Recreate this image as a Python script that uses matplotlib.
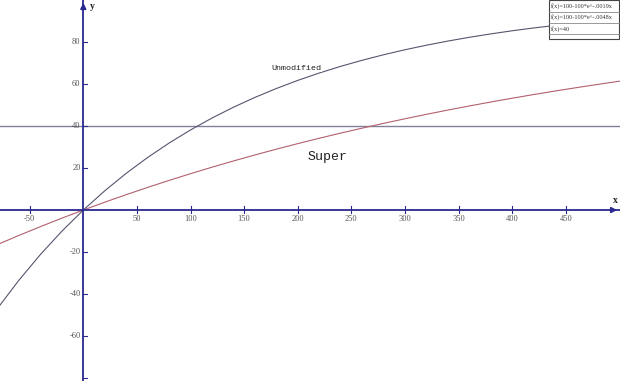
import matplotlib
matplotlib.use("Agg")
import matplotlib.pyplot as plt
import matplotlib.patches as mpatches
from matplotlib.lines import Line2D

# values, every 20 units of x
xs = [-80, -60, -40, -20, 0, 20, 40, 60, 80, 100, 120, 140, 160, 180, 200,
      220, 240, 260, 280, 300, 320, 340, 360, 380, 400, 420, 440, 460, 480, 500]
unmodified = [-46.81, -33.38, -21.17, -10.08, 0.0, 9.15, 17.47, 25.02, 31.89, 38.12,
              43.79, 48.93, 53.61, 57.85, 61.71, 65.22, 68.40, 71.29, 73.92, 76.31,
              78.47, 80.44, 82.24, 83.86, 85.34, 86.68, 87.90, 89.01, 90.01, 90.93]
super_ = [-16.42, -12.08, -7.90, -3.87, 0.0, 3.73, 7.32, 10.77, 14.10, 17.30,
          20.39, 23.36, 26.21, 28.97, 31.61, 34.16, 36.62, 38.98, 41.26, 43.45,
          45.56, 47.59, 49.54, 51.42, 53.23, 54.98, 56.66, 58.27, 59.83, 61.33]
level = 40

x_ticks = [-50, 50, 100, 150, 200, 250, 300, 350, 400, 450]
y_ticks = [80, 60, 40, 20, -20, -40, -60]
legend_rows = ["f(x)=100-100*e^-.0019x", "f(x)=100-100*e^-.0048x", "f(x)=40"]

AXIS = "#2a2a90"
BLUE = "#55556e"
RED = "#b2606e"
HLINE = "#80809a"
W, H = 620, 381

fig = plt.figure(figsize=(W / 100, H / 100), dpi=100)
ax = fig.add_axes([0, 0, 1, 1])
ax.set_xlim(-77.7, 500.6)
ax.set_ylim(-81.4, 100)
ax.axis("off")

ax.axhline(level, color=HLINE, lw=1.0)
ax.plot(xs, super_, color=RED, lw=0.8)
ax.plot(xs, unmodified, color=BLUE, lw=0.8)

# axes through the origin
ax.axhline(0, color=AXIS, lw=1.3)
ax.axvline(0, color=AXIS, lw=1.3)
ax.annotate("", xy=(500.6, 0), xytext=(490, 0),
            arrowprops=dict(arrowstyle="-|>", color=AXIS, lw=1.3, mutation_scale=8))
ax.annotate("", xy=(0, 100), xytext=(0, 95),
            arrowprops=dict(arrowstyle="-|>", color=AXIS, lw=1.3, mutation_scale=8))

tfont = dict(family="Liberation Serif", fontsize=6, color="#555555")
for t in x_ticks:
    ax.plot([t, t], [-1.2, 2.0], color=AXIS, lw=0.8)
    ax.text(t, -2.5, str(t), ha="center", va="top", **tfont)
for t in y_ticks:
    ax.plot([-0.5, 3.5], [t, t], color=AXIS, lw=0.8)
    ax.text(-2.5, t, str(t), ha="right", va="center", **tfont)
ax.plot([-0.5, 3.5], [-80, -80], color=AXIS, lw=0.8)

ax.text(496, 2.5, "x", ha="center", va="bottom", family="Liberation Serif",
        fontsize=7, fontweight="bold", color="#222222")
ax.text(6, 97, "y", ha="left", va="center", family="Liberation Serif",
        fontsize=7, fontweight="bold", color="#222222")

ax.text(199, 67.6, "Unmodified", ha="center", va="center", family="Liberation Mono",
        fontsize=6, color="#222222",
        bbox=dict(facecolor="white", edgecolor="none", pad=0.5))
ax.text(228, 25.2, "Super", ha="center", va="center", family="Liberation Mono",
        fontsize=9.5, color="#222222")

# legend box in the top right corner (pixel positions)
def px(x, y):
    return x / W, 1 - y / H

x0, y0 = px(549, 39)
x1, y1 = px(619, 0)
fig.patches.append(mpatches.Rectangle((x0, y0), x1 - x0, y1 - y0, transform=fig.transFigure,
                                      facecolor="white", edgecolor="#444444", lw=0.8))
for i, label in enumerate(legend_rows):
    tx, ty = px(551, 6 + 11.5 * i)
    fig.text(tx, ty, label, ha="left", va="center", family="Liberation Serif",
             fontsize=4.5, color="#333333")
    lx0, ly = px(549, 11.8 + 11.2 * i)
    lx1, _ = px(619, 0)
    fig.lines.append(Line2D([lx0, lx1], [ly, ly], transform=fig.transFigure,
                            color="#888888", lw=0.6))

fig.savefig("out.png", dpi=100)
